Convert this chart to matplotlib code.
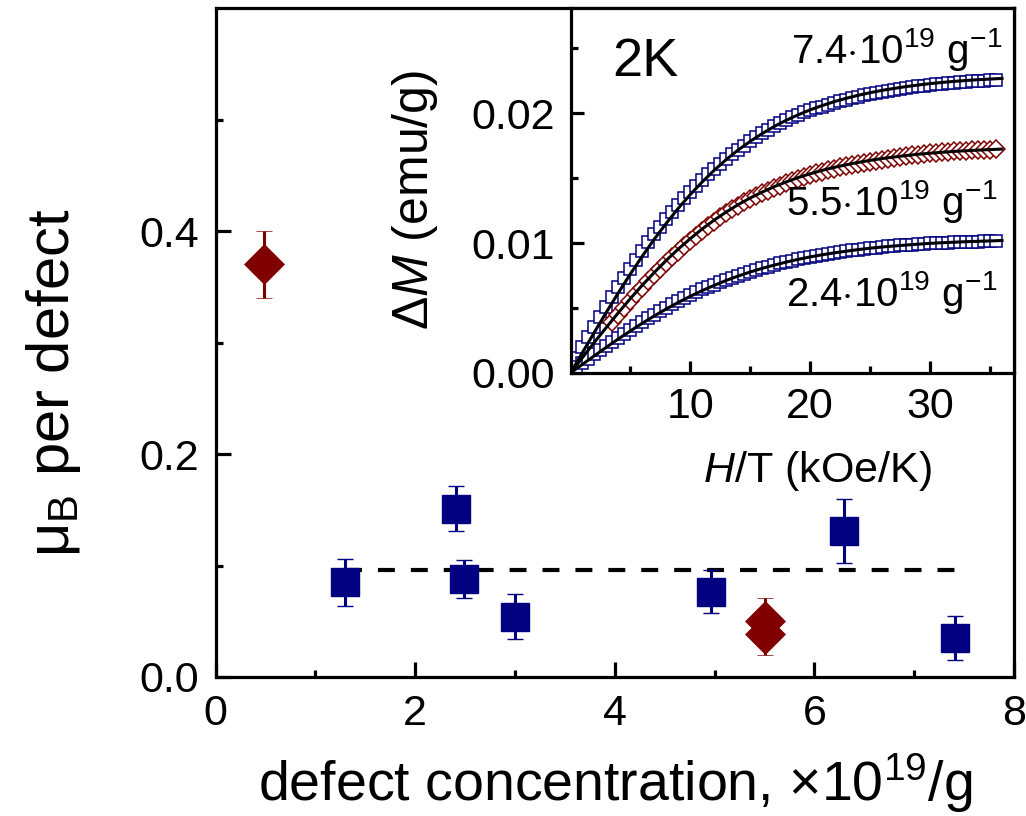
import numpy as np
import matplotlib
matplotlib.use("Agg")
import matplotlib.pyplot as plt
from matplotlib.ticker import FixedLocator, FormatStrFormatter

plt.rcParams.update({
    "font.family": ["Liberation Sans", "DejaVu Sans"],
    "mathtext.fontset": "custom",
    "mathtext.rm": "Liberation Sans",
    "mathtext.it": "Liberation Sans:italic",
    "mathtext.bf": "Liberation Sans:bold",
    "lines.scale_dashes": False,
})

NAVY = "#000080"
DARK_RED = "#800000"

# ---- main panel: moment per defect vs defect concentration ----
blue_conc = [1.30, 2.41, 2.49, 3.00, 4.96, 6.30, 7.41]
blue_mu = [0.085, 0.151, 0.088, 0.054, 0.0766, 0.131, 0.035]
blue_err = [0.021, 0.020, 0.017, 0.020, 0.0195, 0.029, 0.020]

red_conc = [0.48, 5.50, 5.50]
red_mu = [0.370, 0.050, 0.039]
red_err = [0.030, 0.021, 0.019]

mean_mu = 0.096
mean_span = [1.30, 7.55]

# ---- inset: Delta M vs H/T at 2 K ----
fit_field = np.arange(0, 37)          # kOe/K
top_fit = [0.0, 0.00158, 0.00315, 0.00469, 0.00619, 0.00763, 0.00901, 0.01032,
           0.01154, 0.01269, 0.01375, 0.01472, 0.01562, 0.01644, 0.01718, 0.01784,
           0.01844, 0.01898, 0.01946, 0.01988, 0.02026, 0.02059, 0.02089, 0.02115,
           0.02138, 0.02158, 0.02176, 0.02191, 0.02205, 0.02217, 0.02228, 0.02237,
           0.02245, 0.02252, 0.02258, 0.02263, 0.02268]
mid_fit = [0.0, 0.00119, 0.00237, 0.00352, 0.00465, 0.00574, 0.00677, 0.00775,
           0.00868, 0.00955, 0.01035, 0.01110, 0.01178, 0.01240, 0.01297, 0.01348,
           0.01393, 0.01435, 0.01471, 0.01505, 0.01534, 0.01560, 0.01583, 0.01603,
           0.01621, 0.01637, 0.01651, 0.01663, 0.01674, 0.01684, 0.01692, 0.01699,
           0.01706, 0.01711, 0.01716, 0.01720, 0.01724]
low_fit = [0.0, 0.00067, 0.00133, 0.00199, 0.00263, 0.00324, 0.00384, 0.00440,
           0.00494, 0.00544, 0.00591, 0.00635, 0.00675, 0.00713, 0.00747, 0.00778,
           0.00806, 0.00831, 0.00854, 0.00875, 0.00894, 0.00910, 0.00925, 0.00938,
           0.00950, 0.00961, 0.00970, 0.00978, 0.00985, 0.00992, 0.00998, 0.01003,
           0.01007, 0.01011, 0.01014, 0.01017, 0.01020]

# measured points (field step 0.5 kOe/K)
top_field = np.arange(1, 72) * 0.5
top_dm = [0.00119, 0.00198, 0.00277, 0.00355, 0.00432, 0.00509, 0.00584, 0.00659,
          0.00731, 0.00803, 0.00872, 0.00941, 0.01005, 0.01067, 0.01126, 0.01184,
          0.01240, 0.01294, 0.01345, 0.01395, 0.01442, 0.01487, 0.01530, 0.01572,
          0.01611, 0.01649, 0.01684, 0.01718, 0.01751, 0.01784, 0.01814, 0.01844,
          0.01871, 0.01898, 0.01922, 0.01946, 0.01967, 0.01988, 0.02007, 0.02026,
          0.02038, 0.02049, 0.02064, 0.02079, 0.02092, 0.02105, 0.02117, 0.02128,
          0.02138, 0.02148, 0.02157, 0.02166, 0.02174, 0.02181, 0.02188, 0.02195,
          0.02201, 0.02207, 0.02213, 0.02218, 0.02223, 0.02227, 0.02231, 0.02235,
          0.02239, 0.02242, 0.02245, 0.02248, 0.02251, 0.02253, 0.02256]
mid_field = np.arange(7, 72) * 0.5
mid_dm = [0.00389, 0.00445, 0.00500, 0.00554, 0.00606, 0.00657, 0.00706, 0.00755,
          0.00802, 0.00848, 0.00892, 0.00935, 0.00975, 0.01015,
          0.01055, 0.01094, 0.01130, 0.01166, 0.01199, 0.01230, 0.01259, 0.01287,
          0.01313, 0.01338, 0.01361, 0.01383, 0.01404, 0.01425, 0.01443, 0.01461,
          0.01478, 0.01495, 0.01510, 0.01524,
          0.01537, 0.01550, 0.01562, 0.01573, 0.01583, 0.01593, 0.01602, 0.01611,
          0.01619, 0.01627,
          0.01635, 0.01643, 0.01650, 0.01657, 0.01664, 0.01670, 0.01676, 0.01682,
          0.01687, 0.01692,
          0.01696, 0.01699, 0.01703, 0.01706, 0.01709, 0.01711, 0.01714, 0.01716,
          0.01718, 0.01720, 0.01722]
low_field = np.arange(1, 72) * 0.5
low_dm = [0.00044, 0.00077, 0.00110, 0.00143, 0.00176, 0.00209, 0.00241, 0.00273,
          0.00304, 0.00334, 0.00364, 0.00394, 0.00422, 0.00450, 0.00477, 0.00504,
          0.00529, 0.00554, 0.00578, 0.00601,
          0.00622, 0.00643, 0.00662, 0.00681, 0.00699, 0.00717, 0.00733, 0.00749,
          0.00764, 0.00778, 0.00792, 0.00806, 0.00819, 0.00831, 0.00843, 0.00854,
          0.00865, 0.00875, 0.00885, 0.00894,
          0.00902, 0.00910, 0.00918, 0.00925, 0.00932, 0.00938, 0.00944, 0.00950,
          0.00956, 0.00961, 0.00966, 0.00970, 0.00974, 0.00978, 0.00982, 0.00985,
          0.00989, 0.00992, 0.00995, 0.00998,
          0.01000, 0.01002, 0.01003, 0.01005, 0.01006, 0.01008, 0.01010, 0.01011,
          0.01013, 0.01014, 0.01016]

labels_conc = [r"7.4$\cdot$10$^{19}$ g$^{-1}$",
               r"5.5$\cdot$10$^{19}$ g$^{-1}$",
               r"2.4$\cdot$10$^{19}$ g$^{-1}$"]

W, H = 1026, 816
fig = plt.figure(figsize=(W / 100, H / 100), dpi=100)


def rect(left, top, right, bottom):
    return [left / W, 1 - bottom / H, (right - left) / W, (bottom - top) / H]


def px(x, y):
    return x / W, 1 - y / H


# ---------------- main axes ----------------
ax = fig.add_axes(rect(215.7, 8, 1014, 677))
ax.set_xlim(0, 8)
ax.set_ylim(0, 0.6)
for s in ax.spines.values():
    s.set_linewidth(2.3)

ax.plot(mean_span, [mean_mu, mean_mu], color="black", lw=3.0,
        ls=(0, (12.2, 11.5)), zorder=2)

ax.errorbar(blue_conc, blue_mu, yerr=blue_err, fmt="s", ms=20, mfc=NAVY,
            mec=NAVY, mew=1, ecolor=NAVY, elinewidth=2.2, capsize=6,
            capthick=3.0, zorder=3)
ax.errorbar(red_conc, red_mu, yerr=red_err, fmt="D", ms=20.5, mfc=DARK_RED,
            mec=DARK_RED, mew=0.5, ecolor=DARK_RED, elinewidth=2.2, capsize=6,
            capthick=3.0, zorder=3)

ax.xaxis.set_major_locator(FixedLocator([0, 2, 4, 6, 8]))
ax.xaxis.set_minor_locator(FixedLocator([1, 3, 5, 7]))
ax.yaxis.set_major_locator(FixedLocator([0.0, 0.2, 0.4]))
ax.yaxis.set_minor_locator(FixedLocator([0.1, 0.3, 0.5]))
ax.yaxis.set_major_formatter(FormatStrFormatter("%.1f"))
ax.tick_params(which="both", direction="in", top=False, right=False,
               width=2.3, labelsize=31)
ax.tick_params(which="major", length=10.5)
ax.tick_params(which="minor", length=5)
ax.tick_params(axis="x", pad=12)
ax.tick_params(axis="y", pad=12)

fig.text(*px(615, 801), r"defect concentration, $\times$10$^{19}$/g",
         fontsize=40, ha="center", va="baseline")
fig.text(*px(69, 383), r"$\mathrm{\mu}_\mathrm{B}$ per defect",
         fontsize=43, rotation=90, rotation_mode="anchor",
         ha="center", va="baseline")

# ---------------- inset ----------------
ins = fig.add_axes(rect(570.5, 8, 1014, 373))
ins.set_facecolor("white")
ins.set_xlim(0, 37)
ins.set_ylim(0, 0.0281)
for s in ins.spines.values():
    s.set_linewidth(2.3)

ins.plot(top_field, top_dm, ls="none", marker="s", ms=9, mfc="white",
         mec=NAVY, mew=1.1, zorder=2)
ins.plot(mid_field, mid_dm, ls="none", marker="D", ms=9.5, mfc="white",
         mec=DARK_RED, mew=1.1, zorder=2)
ins.plot(low_field, low_dm, ls="none", marker="s", ms=9, mfc="white",
         mec=NAVY, mew=1.1, zorder=2)
for fit in (top_fit, mid_fit, low_fit):
    ins.plot(fit_field, fit, color="black", lw=2.2, zorder=3)

ins.xaxis.set_major_locator(FixedLocator([10, 20, 30]))
ins.xaxis.set_minor_locator(FixedLocator([5, 15, 25, 35]))
ins.yaxis.set_major_locator(FixedLocator([0.0, 0.01, 0.02]))
ins.yaxis.set_minor_locator(FixedLocator([0.005, 0.015, 0.025]))
ins.yaxis.set_major_formatter(FormatStrFormatter("%.2f"))
ins.tick_params(which="both", direction="in", top=False, right=False,
                width=2.3, labelsize=31)
ins.tick_params(which="major", length=9)
ins.tick_params(which="minor", length=5)
ins.tick_params(axis="x", pad=10)
ins.tick_params(axis="y", pad=11)

ins.text(0.094, 0.814, "2K", transform=ins.transAxes, fontsize=39,
         ha="left", va="baseline")
for (xr, yb), txt in zip([(0.973, 0.849), (0.962, 0.433), (0.962, 0.184)],
                         labels_conc):
    ins.text(xr, yb, txt, transform=ins.transAxes, fontsize=29,
             ha="right", va="baseline")

fig.text(*px(817, 482), r"$\mathit{H}$/T (kOe/K)", fontsize=31,
         ha="center", va="baseline")
fig.text(*px(428, 200), r"$\mathit{\Delta M}$ (emu/g)", fontsize=36,
         rotation=90, rotation_mode="anchor", ha="center", va="baseline")

fig.savefig("out.png", dpi=100)
